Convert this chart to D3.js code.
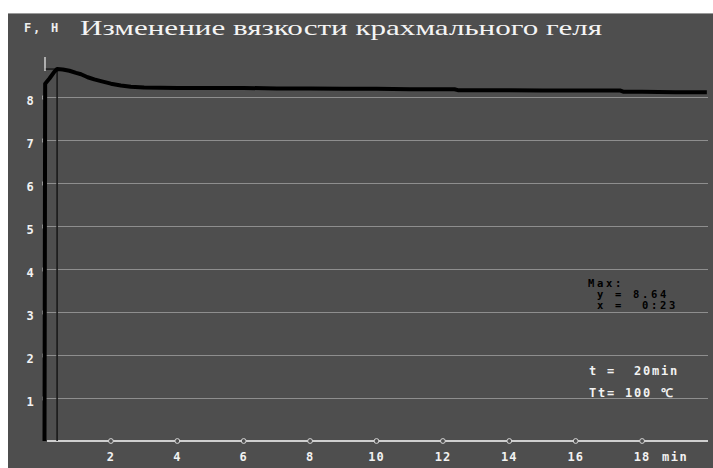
<!DOCTYPE html>
<html><head><meta charset="utf-8">
<script src="https://cdn.jsdelivr.net/npm/d3@7"></script>
<style>
html,body{margin:0;padding:0;background:#fff;}
svg{display:block;}
</style></head>
<body>
<script>
// ---- data ----
const timeMin = [0, 0.02, 0.15, 0.30, 0.38, 0.55, 0.75, 0.95, 1.1, 1.3, 1.5, 1.7, 2.0, 2.3, 2.6, 3.0, 4, 5, 6, 7, 8, 9, 10, 11, 12.35, 12.45, 13, 14, 15, 17.35, 17.45, 18, 19, 19.95];
const force   = [0, 8.30, 8.42, 8.58, 8.64, 8.63, 8.60, 8.55, 8.52, 8.45, 8.40, 8.36, 8.30, 8.26, 8.23, 8.21, 8.20, 8.20, 8.20, 8.19, 8.19, 8.18, 8.18, 8.17, 8.17, 8.15, 8.15, 8.15, 8.14, 8.14, 8.11, 8.11, 8.10, 8.10];
const yTicks = [1, 2, 3, 4, 5, 6, 7, 8];
const xTicks = [2, 4, 6, 8, 10, 12, 14, 16, 18];
const maxPoint = {t: 0.38, v: 8.64};
const title = "Изменение вязкости крахмального геля";
const yUnit = "F, Н";
const xUnit = "min";
const maxLines = ["Max:", " y = 8.64", " x =  0:23"];
const infoLines = ["t =  20min", "Tt= 100 ℃"];

// ---- layout ----
const W = 713, H = 468;
const svg = d3.select("body").append("svg").attr("width", W).attr("height", H);
const panel = "#4e4e4e";
svg.append("rect").attr("x", 8).attr("y", 13).attr("width", W - 8).attr("height", H - 13).attr("fill", panel);
svg.append("line").attr("x1", 8).attr("x2", W).attr("y1", 13.5).attr("y2", 13.5).attr("stroke", "#9a9a9a").attr("stroke-width", 1);

const x = d3.scaleLinear().domain([0, 20]).range([44.5, 708.5]);
const y = d3.scaleLinear().domain([0, 8]).range([441, 441 - 8 * 43.05]);

const mono = "'DejaVu Sans Mono', 'Liberation Mono', monospace";

// gridlines
const g = svg.append("g");
g.selectAll("line.grid").data(yTicks).join("line")
  .attr("x1", 44).attr("x2", 708)
  .attr("y1", d => Math.round(y(d)) + 0.5).attr("y2", d => Math.round(y(d)) + 0.5)
  .attr("stroke", "#8e8e8e").attr("stroke-width", 1);
g.selectAll("rect.tk").data(yTicks).join("rect")
  .attr("x", 42.5).attr("y", d => Math.round(y(d)) - 1)
  .attr("width", 3).attr("height", 3)
  .attr("fill", "none").attr("stroke", "#a8a8a8").attr("stroke-width", 0.8);
g.selectAll("text.yl").data(yTicks).join("text")
  .attr("x", 30).attr("y", d => y(d) + 8.5)
  .attr("text-anchor", "middle")
  .attr("font-family", mono).attr("font-weight", "bold").attr("font-size", 12)
  .attr("fill", "#f2f2f2").text(d => d);

// baseline
svg.append("line").attr("x1", 47).attr("x2", 708).attr("y1", 441).attr("y2", 441)
  .attr("stroke", "#cfcfcf").attr("stroke-width", 2);
svg.selectAll("circle.xt").data(xTicks).join("circle")
  .attr("cx", d => x(d)).attr("cy", 441).attr("r", 2.4)
  .attr("fill", panel).attr("stroke", "#d8d8d8").attr("stroke-width", 1);
svg.selectAll("text.xl").data(xTicks).join("text")
  .attr("x", d => x(d)).attr("y", 461)
  .attr("text-anchor", "middle")
  .attr("font-family", mono).attr("font-weight", "bold").attr("font-size", 12)
  .attr("letter-spacing", 1)
  .attr("fill", "#f2f2f2").text(d => d);
svg.append("text").attr("x", 662).attr("y", 461)
  .attr("font-family", mono).attr("font-weight", "bold").attr("font-size", 12)
  .attr("letter-spacing", 1.5).attr("fill", "#f2f2f2").text(xUnit);

// max marker
svg.append("line").attr("x1", x(0)).attr("x2", x(maxPoint.t))
  .attr("y1", y(maxPoint.v)).attr("y2", y(maxPoint.v))
  .attr("stroke", "#111").attr("stroke-width", 1.3);
svg.append("line").attr("x1", x(maxPoint.t)).attr("x2", x(maxPoint.t))
  .attr("y1", y(maxPoint.v)).attr("y2", 441)
  .attr("stroke", "#1a1a1a").attr("stroke-width", 1.6);
svg.append("line").attr("x1", 45).attr("x2", 45)
  .attr("y1", y(maxPoint.v) - 12).attr("y2", y(maxPoint.v) + 2)
  .attr("stroke", "#f0f0f0").attr("stroke-width", 1.2);

// data curve
const line = d3.line().x((d, i) => x(timeMin[i])).y(d => y(d));
svg.append("path").datum(force)
  .attr("d", line)
  .attr("fill", "none").attr("stroke", "#000").attr("stroke-width", 4)
  .attr("stroke-linejoin", "round");

// title and unit
svg.append("text").attr("x", 80).attr("y", 34.5)
  .attr("font-family", "'Liberation Serif', 'DejaVu Serif', serif")
  .attr("font-size", 21).attr("fill", "#f4f4f4")
  .attr("textLength", 522).attr("lengthAdjust", "spacingAndGlyphs")
  .text(title);
svg.append("text").attr("x", 24).attr("y", 31.5)
  .attr("font-family", mono).attr("font-weight", "bold").attr("font-size", 12)
  .attr("letter-spacing", 1.78).attr("fill", "#eeeeee").text(yUnit);

// annotations
svg.selectAll("text.mx").data(maxLines).join("text")
  .attr("x", 588).attr("y", (d, i) => 287 + i * 11)
  .attr("font-family", mono).attr("font-weight", "bold").attr("font-size", 10.5)
  .attr("letter-spacing", 2.68).attr("fill", "#000")
  .style("white-space", "pre").text(d => d);
svg.selectAll("text.inf").data(infoLines).join("text")
  .attr("x", 589).attr("y", (d, i) => 375 + i * 22)
  .attr("font-family", mono).attr("font-weight", "bold").attr("font-size", 12)
  .attr("letter-spacing", 1.78).attr("fill", "#f2f2f2")
  .style("white-space", "pre").text(d => d);
</script>
</body></html>
